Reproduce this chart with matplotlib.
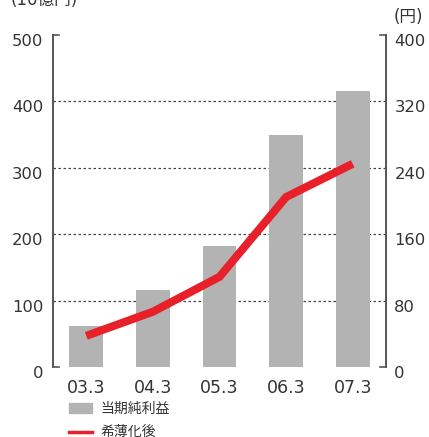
import matplotlib
matplotlib.use("Agg")
import matplotlib.pyplot as plt
from matplotlib.patches import Rectangle
from matplotlib.lines import Line2D
from matplotlib.transforms import ScaledTranslation

plt.rcParams['font.family'] = ['DejaVu Sans', 'Noto Sans CJK JP']

categories = ["03.3", "04.3", "05.3", "06.3", "07.3"]
net_income = [62, 117, 183, 350, 416]      # 当期純利益 (10億円)
diluted_eps = [38, 67, 109, 205, 245]      # 希薄化後 (円)
left_ticks = [0, 100, 200, 300, 400, 500]
right_ticks = [0, 80, 160, 240, 320, 400]

W, H = 429, 437
fig = plt.figure(figsize=(W / 100, H / 100), dpi=100)
x0, x1, yb, yt = 53, 386, 367.4, 35
ax = fig.add_axes([x0 / W, 1 - yb / H, (x1 - x0) / W, (yb - yt) / H])
ax2 = ax.twinx()

bar_color = "#b3b3b3"
line_color = "#e8202a"
axis_color = "#555555"
text_color = "#333333"

xs = list(range(len(categories)))
ax.bar(xs, net_income, width=0.51, color=bar_color, zorder=2)
ax.set_xlim(-0.5, len(categories) - 0.5)
ax.set_ylim(0, 500)
ax2.set_ylim(0, 400)

for v in left_ticks[1:-1]:
    ax.axhline(v, color="#444444", lw=0.9, ls=(0, (2, 2)), zorder=1)

ax2.plot(xs, diluted_eps, color=line_color, lw=5.8, solid_capstyle="butt",
         solid_joinstyle="miter", zorder=3)

for a in (ax, ax2):
    for s in ("top", "bottom"):
        a.spines[s].set_visible(False)
    a.spines["left"].set_color(axis_color)
    a.spines["right"].set_color(axis_color)
    a.spines["left"].set_linewidth(1.2)
    a.spines["right"].set_linewidth(1.2)

fs = 11.8
ax.set_yticks(left_ticks)
ax.set_yticklabels([str(v) for v in left_ticks], fontsize=fs, color=text_color)
ax.tick_params(axis="y", length=0, pad=7)
ax2.set_yticks(right_ticks)
ax2.set_yticklabels([str(v) for v in right_ticks], fontsize=fs, color=text_color)
ax2.tick_params(axis="y", length=0, pad=6)
ax.set_xticks(xs)
ax.set_xticklabels(categories, fontsize=12.5, color=text_color)
ax.tick_params(axis="x", length=0, pad=8)

shift = ScaledTranslation(0, -5 / 100, fig.dpi_scale_trans)
for lab in ax.get_yticklabels() + ax2.get_yticklabels():
    lab.set_transform(lab.get_transform() + shift)

# bracket stubs
stub = 6 / (x1 - x0)
for yv in (0, 1):
    ax.plot([0, stub], [yv, yv], transform=ax.transAxes, color=axis_color,
            lw=1.2, clip_on=False, zorder=5)
    ax.plot([1 - stub, 1], [yv, yv], transform=ax.transAxes, color=axis_color,
            lw=1.2, clip_on=False, zorder=5)

fig.text(11 / W, 1 - 5 / H, "(10億円)", fontsize=12, va="baseline", ha="left", color=text_color)
fig.text(394 / W, 1 - 17 / H, "(円)", fontsize=12, va="center", ha="left", color=text_color)

# legend
fig.patches.append(Rectangle((69 / W, 1 - 413 / H), 23 / W, 10 / H,
                             transform=fig.transFigure, color=bar_color))
fig.text(100 / W, 1 - 408.5 / H, "当期純利益", fontsize=10, va="center", ha="left", color=text_color)
fig.lines.append(Line2D([69 / W, 92 / W], [1 - 432 / H, 1 - 432 / H],
                        transform=fig.transFigure, color=line_color, lw=2.5))
fig.text(100 / W, 1 - 432 / H, "希薄化後", fontsize=10, va="center", ha="left", color=text_color)

fig.savefig("out.png", dpi=100)
